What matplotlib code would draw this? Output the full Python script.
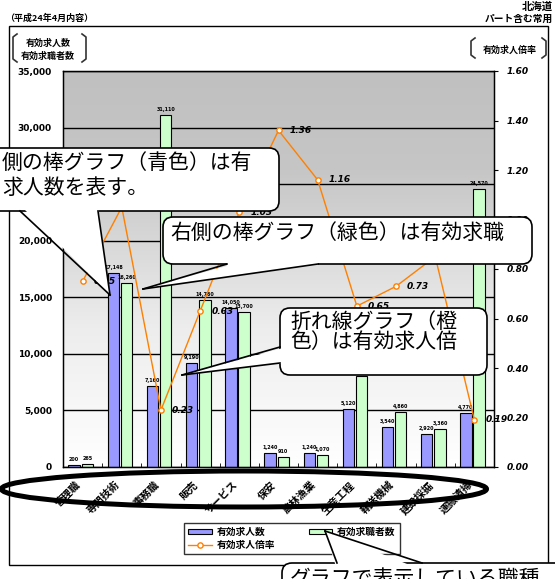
import matplotlib
matplotlib.use('Agg')
import matplotlib.pyplot as plt
import numpy as np
from matplotlib.colors import LinearSegmentedColormap
from matplotlib.patches import FancyBboxPatch, Ellipse, Rectangle, Polygon, Patch
from matplotlib.lines import Line2D

plt.rcParams['font.family'] = ['Noto Sans CJK JP', 'DejaVu Sans']

# --- data ---
occupations = ['管理職', '専門技術', '事務職', '販売', 'サービス', '保安',
               '農林漁業', '生産工程', '輸送機械', '建設採掘', '運搬清掃']
job_offers = [200, 17148, 7160, 9190, 14050, 1240, 1240, 5120, 3540, 2920, 4770]
job_seekers = [265, 16260, 31110, 14760, 13700, 910, 1070, 8040, 4860, 3360, 24570]
offer_ratio = [0.75, 1.05, 0.23, 0.63, 1.03, 1.36, 1.16, 0.65, 0.73, 0.85, 0.19]

left_ticks = [0, 5000, 10000, 15000, 20000, 25000, 30000, 35000]
left_tick_labels = ['0', '5,000', '10,000', '15,000', '20,000', '25,000', '30,000', '35,000']
right_ticks = [0.0, 0.2, 0.4, 0.6, 0.8, 1.0, 1.2, 1.4, 1.6]
right_tick_labels = ['0.00', '0.20', '0.40', '0.60', '0.80', '1.00', '1.20', '1.40', '1.60']

legend_labels = ['有効求人数', '有効求人倍率', '有効求職者数']

callouts = [
    ['側の棒グラフ（青色）は有', '求人数を表す。'],
    ['右側の棒グラフ（緑色）は有効求職'],
    ['折れ線グラフ（橙', '色）は有効求人倍'],
    ['グラフで表示している職種'],
]

BLUE = '#9999FF'
GREEN = '#CCFFCC'
ORANGE = '#FF8000'

W, H = 555, 579
fig = plt.figure(figsize=(W / 100, H / 100), dpi=100)
fig.patch.set_facecolor('white')

ax = fig.add_axes([63 / W, 112 / H, 431 / W, 396 / H])
x = np.arange(len(occupations))

# gray-to-white background of the plot area
cmap = LinearSegmentedColormap.from_list(
    'bg', [(0.0, '#FFFFFF'), (0.35, '#EDEDED'), (0.75, '#C6C6C6'), (1.0, '#C0C0C0')])
grad = np.linspace(0, 1, 256).reshape(-1, 1)
ax.imshow(grad, extent=[-0.5, len(occupations) - 0.5, 0, 35000], origin='lower',
          aspect='auto', cmap=cmap, zorder=0)

bw = 0.29
b1 = ax.bar(x - 0.215, job_offers, bw, color=BLUE, edgecolor='black', linewidth=0.8, zorder=2)
b2 = ax.bar(x + 0.12, job_seekers, bw, color=GREEN, edgecolor='black', linewidth=0.8, zorder=2)
for xi, v in zip(x, job_offers):
    ax.annotate(f'{v:,}', (xi - 0.215, v), xytext=(0, 2), textcoords='offset points',
                ha='center', va='bottom', fontsize=3.5, fontweight='bold', family='DejaVu Sans')
for xi, v in zip(x, job_seekers):
    ax.annotate(f'{v:,}', (xi + 0.12, v), xytext=(0, 2), textcoords='offset points',
                ha='center', va='bottom', fontsize=3.5, fontweight='bold', family='DejaVu Sans')

ax.set_xlim(-0.5, len(occupations) - 0.5)
ax.set_ylim(0, 35000)
ax.set_yticks(left_ticks)
ax.set_yticklabels(left_tick_labels, fontsize=6.5, fontweight='bold', family='DejaVu Sans')
ax.yaxis.grid(True, color='black', linewidth=1.0)
ax.set_axisbelow(True)
ax.tick_params(axis='y', length=0, pad=8)
ax.set_xticks(x)
ax.set_xticklabels(occupations, rotation=45, ha='right', va='top',
                   fontsize=7.5, fontweight='bold')
ax.set_xticks(np.arange(-0.5, len(occupations)), minor=True)
ax.tick_params(axis='x', which='major', length=0, pad=9)
ax.tick_params(axis='x', which='minor', length=3, direction='in')
for s in ax.spines.values():
    s.set_color('black')
    s.set_linewidth(1.0)

ax2 = ax.twinx()
ln, = ax2.plot(x, offer_ratio, color=ORANGE, linewidth=1.0, marker='o', markersize=3.8,
               markerfacecolor='white', markeredgecolor=ORANGE, markeredgewidth=1.0, zorder=3)
for xi, v in zip(x, offer_ratio):
    ax2.annotate(f'{v:.2f}', (xi, v), xytext=(8, 0), textcoords='offset points',
                 ha='left', va='center', fontsize=6.5, fontweight='bold',
                 fontstyle='italic', family='DejaVu Sans')
ax2.set_ylim(0, 1.6)
ax2.set_yticks(right_ticks)
ax2.set_yticklabels(right_tick_labels, fontsize=6.5, fontweight='bold',
                    fontstyle='italic', family='DejaVu Sans')
ax2.tick_params(axis='y', length=3, direction='out', pad=6)

leg = fig.legend(handles=[b1, ln, b2], labels=legend_labels, ncol=2, loc='center',
                 bbox_to_anchor=(292 / W, 1 - 538.5 / H), fontsize=7, frameon=True,
                 fancybox=False, edgecolor='black', handlelength=2.4, handleheight=0.5,
                 labelspacing=0.35, columnspacing=3.5, borderpad=0.4, handletextpad=0.5)
leg.get_frame().set_linewidth(1.0)
for t in leg.get_texts():
    t.set_fontweight('bold')

# --- overlay in pixel coordinates for the frame, the titles and the balloons ---
ov = fig.add_axes([0, 0, 1, 1], zorder=10)
ov.set_xlim(0, W)
ov.set_ylim(H, 0)
ov.axis('off')
ov.patch.set_alpha(0)

ov.add_patch(Rectangle((9, 26), 539, 539, fill=False, edgecolor='black', linewidth=1.0))
ov.text(5, 18, '（平成24年4月内容）', fontsize=6.5, fontweight='bold', va='center', ha='left')
ov.text(553, 7, '北海道', fontsize=7.5, fontweight='bold', va='center', ha='right')
ov.text(553, 19, 'パート含む常用', fontsize=7, fontweight='bold', va='center', ha='right')

ov.text(48, 43, '有効求人数', fontsize=6.5, fontweight='bold', va='center', ha='center')
ov.text(48, 56, '有効求職者数', fontsize=6.5, fontweight='bold', va='center', ha='center')
ov.plot([17, 13, 13, 17], [34, 37, 59, 62], color='#333333', lw=1.2)
ov.plot([82, 86, 86, 82], [34, 37, 59, 62], color='#333333', lw=1.2)
ov.text(510, 50, '有効求人倍率', fontsize=6.5, fontweight='bold', va='center', ha='center')
ov.plot([475, 471, 471, 475], [38, 41, 55, 58], color='#333333', lw=1.2)
ov.plot([542, 546, 546, 542], [38, 41, 55, 58], color='#333333', lw=1.2)

ov.add_patch(Ellipse((244, 489), 485, 36, fill=False, edgecolor='black', linewidth=3.6))


def balloon(x0, y0, x1, y1, tail, side_lines):
    ov.add_patch(FancyBboxPatch((x0, y0), x1 - x0, y1 - y0,
                                boxstyle='round,pad=0,rounding_size=10',
                                facecolor='white', edgecolor='black', linewidth=1.2))
    ov.add_patch(Polygon(tail, closed=True, facecolor='white', edgecolor='none'))
    for (xa, ya), (xb, yb) in side_lines:
        ov.add_line(Line2D([xa, xb], [ya, yb], color='black', linewidth=1.2))


balloon(-20, 148, 279, 211, [(20, 205), (98, 205), (110, 295)],
        [((20, 211), (110, 295)), ((98, 211), (110, 295))])
balloon(163, 217, 532, 264, [(227, 258), (318, 258), (318, 265), (143, 289), (227, 266)],
        [((227, 264), (143, 289)), ((318, 264), (143, 289))])
balloon(280, 308, 487, 375, [(287, 347), (287, 363), (182, 375)],
        [((280, 347), (182, 375)), ((280, 363), (182, 375))])
balloon(282, 563, 600, 640, [(337, 570), (422, 570), (325, 531)],
        [((337, 563), (325, 531)), ((422, 563), (325, 531))])

ov.text(2, 163, callouts[0][0], fontsize=15, va='center', ha='left')
ov.text(2, 188, callouts[0][1], fontsize=15, va='center', ha='left')
ov.text(170, 233, callouts[1][0], fontsize=15, va='center', ha='left')
ov.text(290, 322, callouts[2][0], fontsize=15, va='center', ha='left')
ov.text(290, 342, callouts[2][1], fontsize=15, va='center', ha='left')
ov.text(290, 579, callouts[3][0], fontsize=15, va='center', ha='left')

fig.savefig('out.png', dpi=100)
